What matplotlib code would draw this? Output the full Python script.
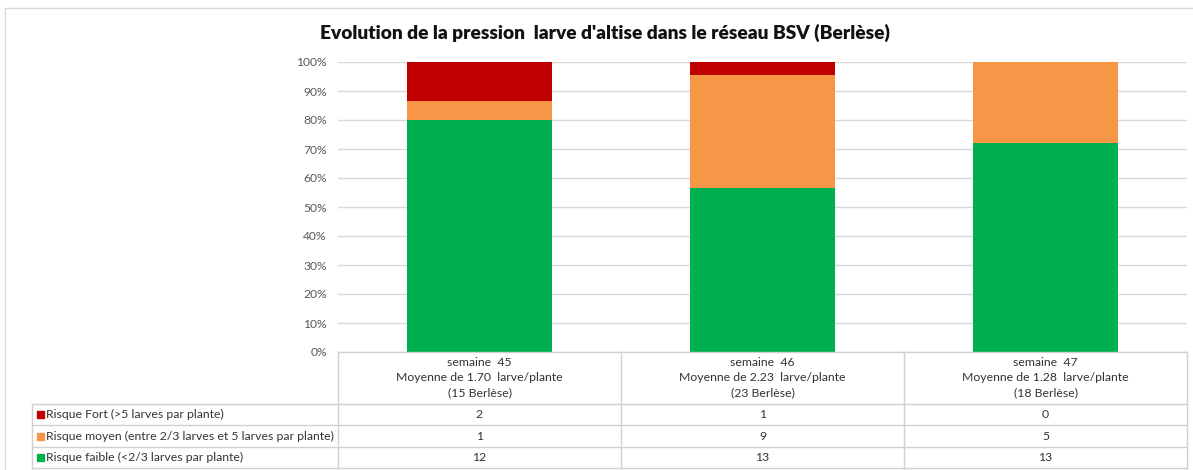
import matplotlib
matplotlib.use("Agg")
import matplotlib.pyplot as plt
from matplotlib.lines import Line2D
from matplotlib.patches import Rectangle
import numpy as np

title = "Evolution de la pression  larve d'altise dans le réseau BSV (Berlèse)"
weeks = ["semaine  45\nMoyenne de 1.70  larve/plante\n(15 Berlèse)",
         "semaine  46\nMoyenne de 2.23  larve/plante\n(23 Berlèse)",
         "semaine  47\nMoyenne de 1.28  larve/plante\n(18 Berlèse)"]
series_names = ["Risque Fort (>5 larves par plante)",
                "Risque moyen (entre 2/3 larves et 5 larves par plante)",
                "Risque faible (<2/3 larves par plante)"]
fort = [2, 1, 0]
moyen = [1, 9, 5]
faible = [12, 13, 13]
colors = ["#C00000", "#F79646", "#00B050"]
yticks = [0, 10, 20, 30, 40, 50, 60, 70, 80, 90, 100]

W, H = 1193, 470
FONT = "Lato"
fig = plt.figure(figsize=(W / 100, H / 100), dpi=100)

def fx(x):
    return x / W

def fy(y):
    return 1 - y / H

# outer border
fig.add_artist(Line2D([fx(5), fx(1193)], [fy(8), fy(8)], color="#d9d9d9", lw=1, transform=fig.transFigure))
fig.add_artist(Line2D([fx(5), fx(5)], [fy(8), fy(470)], color="#d9d9d9", lw=1, transform=fig.transFigure))

ax_l, ax_r, ax_t, ax_b = 338, 1187, 62, 352
ax = fig.add_axes([fx(ax_l), fy(ax_b), (ax_r - ax_l) / W, (ax_b - ax_t) / H])

counts = np.array([faible, moyen, fort], dtype=float)
tot = counts.sum(axis=0)
pct = counts / tot * 100
x = np.arange(len(weeks))
bottom = np.zeros(len(weeks))
stack_colors = [colors[2], colors[1], colors[0]]
for vals, c in zip(pct, stack_colors):
    ax.bar(x, vals, bottom=bottom, width=0.51, color=c, zorder=3)
    bottom += vals

ax.set_xlim(-0.5, len(weeks) - 0.5)
ax.set_ylim(0, 100)
ax.set_yticks(yticks)
ax.set_yticklabels([f"{t}%" for t in yticks], fontsize=8.7, color="#595959", family=FONT)
ax.tick_params(axis="y", length=0, pad=8)
ax.set_xticks([])
ax.yaxis.grid(True, color="#d9d9d9", lw=1, zorder=0)
for s in ax.spines.values():
    s.set_visible(False)

fig.text(fx(605), fy(33), title, ha="center", va="center", fontsize=13.8,
         fontweight="heavy", family=FONT, color="#111111")

# data table
lc = "#d0d0d0"
row_y = [352, 404, 425, 447, 468]
left = 32
colw = (ax_r - ax_l) / len(weeks)
def hline(y, x0, x1):
    fig.add_artist(Line2D([fx(x0), fx(x1)], [fy(y), fy(y)], color=lc, lw=1, transform=fig.transFigure))
def vline(x0, y0, y1):
    fig.add_artist(Line2D([fx(x0), fx(x0)], [fy(y0), fy(y1)], color=lc, lw=1, transform=fig.transFigure))

hline(352, ax_l, ax_r)
for y in row_y[1:]:
    hline(y, left, ax_r)
vline(left, 404, 468)
for i in range(len(weeks) + 1):
    vline(ax_l + i * colw, 352, 468)

TXT = "#333333"
for i, wk in enumerate(weeks):
    cx = ax_l + (i + 0.5) * colw
    for j, line in enumerate(wk.split("\n")):
        fig.text(fx(cx), fy(362 + j * 15.5), line, ha="center", va="center",
                 fontsize=8.8, family=FONT, color=TXT)

rows = [fort, moyen, faible]
for r, (name, vals, c) in enumerate(zip(series_names, rows, colors)):
    y0, y1 = row_y[r + 1], row_y[r + 2]
    cy = (y0 + y1) / 2
    fig.add_artist(Rectangle((fx(37), fy(cy + 3.5)), 7 / W, 7 / H, color=c, transform=fig.transFigure))
    fig.text(fx(46), fy(cy), name, ha="left", va="center", fontsize=8.8, family=FONT, color=TXT)
    for i, v in enumerate(vals):
        cx = ax_l + (i + 0.5) * colw
        fig.text(fx(cx), fy(cy), str(v), ha="center", va="center", fontsize=8.8, family=FONT, color=TXT)

fig.savefig("out.png", dpi=100, facecolor="white")
